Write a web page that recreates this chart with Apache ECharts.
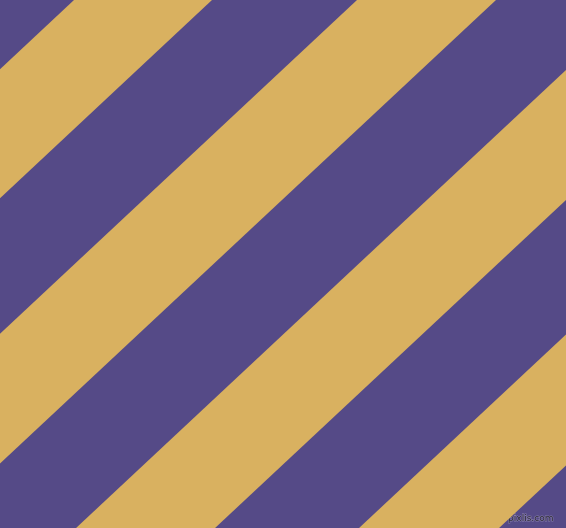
<!DOCTYPE html>
<html>
<head>
<meta charset="utf-8">
<script src="https://cdn.jsdelivr.net/npm/echarts@6/dist/echarts.min.js"></script>
<style>
  html, body { margin: 0; padding: 0; }
  #main { width: 566px; height: 528px; }
</style>
</head>
<body>
<div id="main"></div>
<script>
// gold stripes: where each edge meets the top border (x at y = 0)
const stripeStart = [74, 357, 641, 924];
const stripeEnd = [212, 496, 780, 1064];
// horizontal run per unit of depth for every stripe edge
const stripeSlope = 1.07;
const areaWidth = 566;
const areaHeight = 528;

const purple = '#554A87';
const gold = '#D9B160';

const stripes = stripeStart.map((s, i) => [s, stripeEnd[i]]);

const chart = echarts.init(document.getElementById('main'));

chart.setOption({
  backgroundColor: purple,
  animation: false,
  grid: { left: 0, right: 0, top: 0, bottom: 0 },
  xAxis: { type: 'value', min: 0, max: areaWidth, show: false },
  yAxis: { type: 'value', min: 0, max: areaHeight, inverse: true, show: false },
  series: [{
    type: 'custom',
    data: stripes,
    renderItem: function (params, api) {
      const c0 = api.value(0);
      const c1 = api.value(1);
      const shift = stripeSlope * areaHeight;
      const pts = [
        api.coord([c0, 0]),
        api.coord([c1, 0]),
        api.coord([c1 - shift, areaHeight]),
        api.coord([c0 - shift, areaHeight])
      ];
      return {
        type: 'polygon',
        shape: { points: pts },
        style: { fill: gold }
      };
    }
  }],
  graphic: [{
    type: 'text',
    right: 12,
    bottom: 4,
    style: {
      text: 'pixlis.com',
      font: '9px "DejaVu Sans"',
      fill: '#2e2b38',
      stroke: 'rgba(190,185,210,0.45)',
      lineWidth: 1.2
    }
  }]
});
</script>
</body>
</html>
